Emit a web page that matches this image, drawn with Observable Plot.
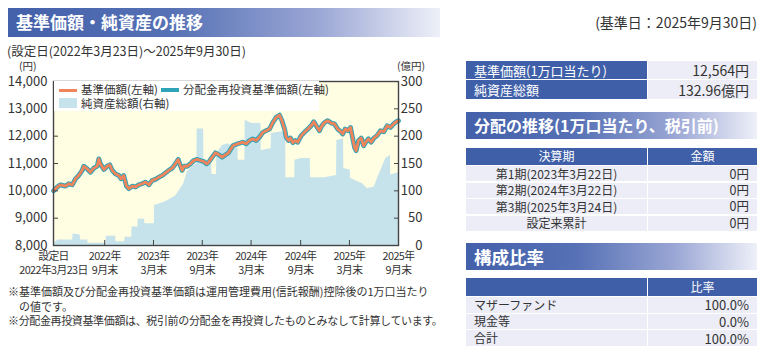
<!DOCTYPE html>
<html><head><meta charset="utf-8">
<script src="https://cdn.jsdelivr.net/npm/d3@7"></script>
<script src="https://cdn.jsdelivr.net/npm/@observablehq/plot@0.6"></script>
<style>
body{margin:0;width:767px;height:357px;position:relative;font-family:"Noto Sans CJK JP",sans-serif;color:#333;background:#fff;overflow:hidden}
.abs{position:absolute;white-space:nowrap;box-sizing:border-box;line-height:1.2}
.bar{position:absolute;box-sizing:border-box;background:linear-gradient(to right,#4360aa 0%,#5671b5 38%,#9ba7d5 72%,#eef0f8 100%);color:#fff;font-weight:bold;white-space:nowrap;display:flex;align-items:center;line-height:1.1}
.cell{position:absolute;box-sizing:border-box;display:flex;align-items:center;white-space:nowrap;line-height:1}
#chart{position:absolute;left:0;top:60px}
#chart g[aria-label="x-axis tick label"] text{letter-spacing:-0.6px}
#legend{position:absolute;left:54px;top:81px;width:265px;height:30px;background:#fff;font-size:11.5px;color:#333}
</style></head><body>
<div class="bar" style="left:8px;top:8px;width:432px;height:29px;padding-left:8px;font-size:17px;">基準価額・純資産の推移</div>
<div class="abs" style="right:10px;top:14px;font-size:14px;">(基準日：2025年9月30日)</div>
<div class="abs" style="left:7px;top:43px;font-size:12.5px;">(設定日(2022年3月23日)～2025年9月30日)</div>
<div id="chart"></div>
<div class="abs" style="left:19px;top:60px;font-size:10.5px;">(円)</div>
<div class="abs" style="left:397px;top:60px;font-size:10.5px;">(億円)</div>
<div id="legend"></div>
<div id="notes"></div>
<div id="tables"></div>
<script>
// ---- data ----
const startDate = "2022-03-23";
const tickDates = ["2022-03-23","2022-09-30","2023-03-31","2023-09-29","2024-03-29","2024-09-30","2025-03-31","2025-09-30"];
const tickLabels = ["設定日\n2022年3月23日","2022年\n9月末","2023年\n3月末","2023年\n9月末","2024年\n3月末","2024年\n9月末","2025年\n3月末","2025年\n9月末"];
const leftTicks = [8000,9000,10000,11000,12000,13000,14000];
const rightTicks = [0,50,100,150,200,250,300];
// days since inception
const priceDays = [0,14,26,45,57,70,82,94,107,113,126,138,150,163,169,175,188,200,210,219,231,244,252,262,272,281,294,306,318,331,343,356,368,380,393,405,418,430,443,455,465,474,480,486,499,511,523,536,548,561,571,579,592,604,617,629,642,653,669,687,706,719,731,743,756,768,781,793,806,818,831,843,852,862,868,877,884,893,902,911,924,936,949,961,971,980,992,1001,1011,1023,1036,1048,1060,1073,1079,1088,1098,1108,1114,1123,1129,1138,1148,1157,1166,1175,1185,1195,1207,1220,1232,1245,1257,1269,1279,1287];
const priceValues = [10000,10140,10220,10175,10260,10220,10440,10560,10750,10900,10800,10680,10830,10900,11170,10990,10780,10900,10950,10750,10620,10560,10440,10560,10175,10080,10175,10140,10220,10260,10320,10220,10380,10420,10500,10560,10660,10750,10830,10990,11150,10900,10750,10900,10900,10990,11110,11150,11110,11070,10990,11050,11230,11390,11320,11230,11320,11390,11650,11720,11780,11720,11840,11900,11840,11960,12140,12200,12260,12500,12690,12770,12570,12260,11960,11840,11930,11760,11840,11780,12020,12140,12260,12380,12530,12380,12200,12380,12500,12570,12480,12450,12260,12160,12080,12260,12200,12320,12020,11590,11470,11840,11930,11650,11800,11900,11780,11930,12020,12200,12160,12380,12320,12450,12530,12564];
const assetDays = [0,6,18,72,73,100,101,128,129,196,197,232,233,266,267,292,293,315,316,340,341,376,377,418,455,485,500,520,535,536,560,561,590,591,608,609,630,653,671,688,689,714,715,740,774,775,812,813,850,866,867,900,901,925,958,959,1011,1056,1057,1082,1083,1107,1108,1134,1153,1171,1197,1209,1240,1257,1258,1287];
const assetValues = [0,6,10,10,21,19,10,10,4,4,17,17,7,7,15,15,34,34,48,48,40,40,73,80,90,112,135,145,150,213,213,148,148,130,130,168,183,186,178,178,156,156,229,223,223,174,177,205,208,205,124,124,156,159,159,124,124,128,192,195,141,138,123,117,113,104,107,123,159,165,129,133];

const summaryLabels = ["基準価額(1万口当たり)","純資産総額"];
const summaryValues = ["12,564円","132.96億円"];
const distPeriods = ["第1期(2023年3月22日)","第2期(2024年3月22日)","第3期(2025年3月24日)","設定来累計"];
const distAmounts = ["0円","0円","0円","0円"];
const compNames = ["マザーファンド","現金等","合計"];
const compValues = ["100.0%","0.0%","100.0%"];
const notes = ["※基準価額及び分配金再投資基準価額は運用管理費用(信託報酬)控除後の1万口当たり","　の値です。","※分配金再投資基準価額は、税引前の分配金を再投資したものとみなして計算しています。"];

// ---- chart ----
const parse = d3.timeParse("%Y-%m-%d");
const start = parse(startDate);
const ticks = tickDates.map(parse);
const labelMap = new Map(ticks.map((d,i)=>[+d, tickLabels[i]]));
const priceData = priceDays.map((d,i)=>({date:d3.timeDay.offset(start,d), value:priceValues[i]}));
const assetData = assetDays.map((d,i)=>({date:d3.timeDay.offset(start,d), value:assetValues[i]}));
const toLeft = v => 8000 + v*20;
const FONT = '"Noto Sans CJK JP", sans-serif';

const chart = Plot.plot({
  width: 440, height: 225,
  marginLeft: 53, marginRight: 42, marginTop: 21, marginBottom: 40,
  style: {fontFamily: FONT, fontSize: "13px", color: "#333", background: "transparent", overflow: "visible"},
  x: {type: "time", domain: [ticks[0], ticks[ticks.length-1]], label: null},
  y: {domain: [8000, 14000], label: null},
  marks: [
    Plot.frame({fill: "#fffde2"}),
    Plot.areaY(assetData, {x: "date", y1: 8000, y2: d => toLeft(d.value), fill: "#c6e3eb"}),
    Plot.lineY(priceData, {x: "date", y: "value", stroke: "#2fa3b8", strokeWidth: 4.8, strokeLinejoin: "round"}),
    Plot.lineY(priceData, {x: "date", y: "value", stroke: "#f0845a", strokeWidth: 2.8, strokeLinejoin: "round"}),
    Plot.axisY({ticks: leftTicks, tickSize: 0, tickPadding: 6, tickFormat: d3.format(","), label: null}),
    Plot.axisY({ticks: leftTicks, tickSize: -5, tickFormat: () => "", label: null, stroke: "#444"}),
    Plot.axisY({anchor: "right", ticks: rightTicks.map(toLeft), tickSize: 0, tickPadding: 24, textAnchor: "end", tickFormat: d => String((d-8000)/20), label: null}),
    Plot.axisY({anchor: "right", ticks: rightTicks.map(toLeft), tickSize: -5, tickFormat: () => "", label: null, stroke: "#444"}),
    Plot.axisX({ticks: ticks, tickSize: 0, tickPadding: 4, fontSize: 10.8, lineHeight: 1.35, tickFormat: d => labelMap.get(+d), label: null}),
    Plot.axisX({ticks: ticks, tickSize: -5, tickFormat: () => "", label: null, stroke: "#444"}),
    Plot.frame({stroke: "#444", strokeWidth: 1.4})
  ]
});
document.getElementById("chart").append(chart);

// ---- legend ----
const lg = document.getElementById("legend");
lg.innerHTML = `
<div class="abs" style="left:5px;top:8px;width:18px;height:2.6px;background:#f0845a"></div>
<div class="abs" style="left:27px;top:1.5px;">基準価額(左軸)</div>
<div class="abs" style="left:107px;top:7px;width:18px;height:4px;background:#2fa3b8"></div>
<div class="abs" style="left:129px;top:1.5px;">分配金再投資基準価額(左軸)</div>
<div class="abs" style="left:5px;top:17px;width:18px;height:10px;background:#c6e3eb"></div>
<div class="abs" style="left:27px;top:15.5px;">純資産総額(右軸)</div>`;

// ---- notes ----
const nt = document.getElementById("notes");
const noteTops = [285, 300, 314];
const noteSpacing = [0, 0, -0.36];
notes.forEach((t,i)=>{
  const d = document.createElement("div");
  d.className = "abs"; d.style.left = "8px"; d.style.top = noteTops[i]+"px"; d.style.fontSize = "11px";
  d.style.letterSpacing = noteSpacing[i]+"px";
  d.textContent = t; nt.append(d);
});

// ---- tables ----
const tb = document.getElementById("tables");
function cell(x,y,w,h,text,o={}){
  const d = document.createElement("div");
  d.className = "cell";
  Object.assign(d.style,{left:x+"px",top:y+"px",width:w+"px",height:h+"px",
    background:o.bg||"#ecedf6",color:o.color||"#333",fontSize:(o.fs||12)+"px",
    justifyContent:o.align==="right"?"flex-end":o.align==="center"?"center":"flex-start",
    paddingLeft:(o.pl||0)+"px",paddingRight:(o.pr||0)+"px",fontWeight:o.bold?"bold":"normal"});
  d.textContent = text; tb.append(d); return d;
}
const BLUE = "#3f5fa9";
const LX = 466, LW = 181, RX = 648, RW = 109;
summaryLabels.forEach((t,i)=>{
  const y = [61,80][i], h = [18,19][i];
  cell(LX,y,LW,h,t,{bg:BLUE,color:"#fff",fs:13,pl:8});
  cell(RX,y,RW,h,summaryValues[i],{fs:14,align:"right",pr:8});
});
function bar(y,text,fs){
  const d = document.createElement("div");
  d.className = "bar";
  Object.assign(d.style,{left:"466px",top:y+"px",width:"291px",height:"27px",paddingLeft:"8px",fontSize:fs+"px"});
  d.textContent = text; tb.append(d);
}
bar(112,"分配の推移(1万口当たり、税引前)",16);
cell(LX,148,LW,16.5,"決算期",{bg:BLUE,color:"#fff",fs:12,align:"center"});
cell(RX,148,RW,16.5,"金額",{bg:BLUE,color:"#fff",fs:12,align:"center"});
distPeriods.forEach((t,i)=>{
  const y = 166.3 + i*16.4;
  cell(LX,y,LW,15,t,{fs:12,align:"center"});
  cell(RX,y,RW,15,distAmounts[i],{fs:12.5,align:"right",pr:8});
});
bar(243,"構成比率",17.5);
cell(LX,278,LW,18,"",{bg:BLUE});
cell(RX,278,RW,18,"比率",{bg:BLUE,color:"#fff",fs:12,align:"center"});
compNames.forEach((t,i)=>{
  const y = 297 + i*16.7;
  cell(LX,y,LW,15.5,t,{fs:12,pl:8});
  cell(RX,y,RW,15.5,compValues[i],{fs:13,align:"right",pr:8});
});
</script>
</body></html>
